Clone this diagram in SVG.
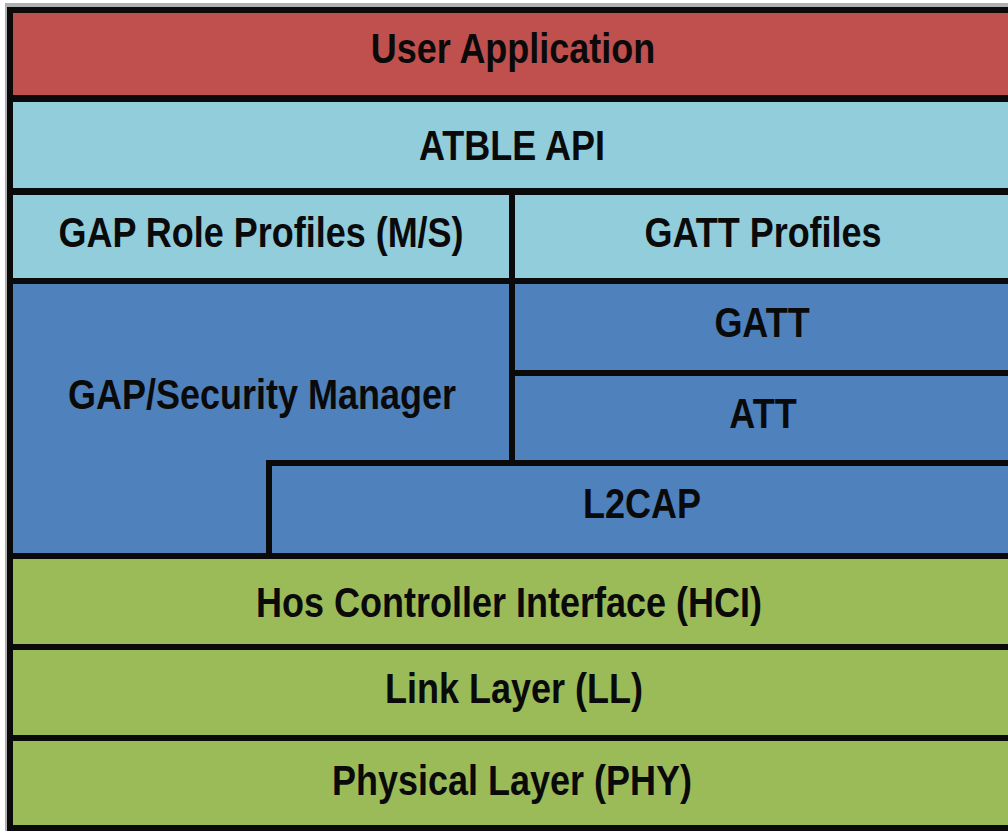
<svg xmlns="http://www.w3.org/2000/svg" width="1008" height="831" viewBox="0 0 1008 831">
  <style>
    .lbl { font-family: "Liberation Sans", Arial, sans-serif; font-weight: bold; font-size: 36px; fill: #0a0a0a; text-anchor: middle; }
    .red { fill: #C0504D; }
    .lb { fill: #92CDDC; }
    .bl { fill: #4F81BD; }
    .gr { fill: #9BBB59; }
    .ln { fill: #0a0a0a; }
  </style>
  <rect x="0" y="0" width="1008" height="831" fill="#ffffff"/>
  <rect x="5" y="3" width="1003" height="4" fill="#b0b0b0"/>
  <rect x="5" y="3" width="3" height="828" fill="#b0b0b0"/>

  <g id="user-application">
    <rect class="red" x="12" y="12" width="996" height="84"/>
    <text class="lbl" transform="translate(513,63) scale(1,1.17)">User Application</text>
  </g>
  <g id="atble-api">
    <rect class="lb" x="12" y="102" width="996" height="87"/>
    <text class="lbl" transform="translate(512,160) scale(1,1.17)">ATBLE API</text>
  </g>
  <g id="gap-role-profiles">
    <rect class="lb" x="12" y="195" width="500" height="84"/>
    <text class="lbl" transform="translate(261,247) scale(1,1.17)">GAP Role Profiles (M/S)</text>
  </g>
  <g id="gatt-profiles">
    <rect class="lb" x="512" y="195" width="496" height="84"/>
    <text class="lbl" transform="translate(763,247) scale(1,1.17)">GATT Profiles</text>
  </g>
  <g id="gap-security-manager">
    <path class="bl" d="M12,284 H512 V463 H269 V556 H12 Z"/>
    <text class="lbl" transform="translate(262,409) scale(1,1.17)">GAP/Security Manager</text>
  </g>
  <g id="gatt">
    <rect class="bl" x="512" y="284" width="496" height="89"/>
    <text class="lbl" transform="translate(762,337) scale(1,1.17)">GATT</text>
  </g>
  <g id="att">
    <rect class="bl" x="512" y="373" width="496" height="90"/>
    <text class="lbl" transform="translate(763,428) scale(1,1.17)">ATT</text>
  </g>
  <g id="l2cap">
    <rect class="bl" x="269" y="463" width="739" height="93"/>
    <text class="lbl" transform="translate(642,518) scale(1,1.17)">L2CAP</text>
  </g>
  <g id="hci">
    <rect class="gr" x="12" y="556" width="996" height="91"/>
    <text class="lbl" transform="translate(509,617) scale(1,1.17)">Hos Controller Interface (HCI)</text>
  </g>
  <g id="link-layer">
    <rect class="gr" x="12" y="647" width="996" height="91"/>
    <text class="lbl" transform="translate(514,703) scale(1,1.17)">Link Layer (LL)</text>
  </g>
  <g id="physical-layer">
    <rect class="gr" x="12" y="738" width="996" height="90"/>
    <text class="lbl" transform="translate(512,795) scale(1,1.17)">Physical Layer (PHY)</text>
  </g>

  <g id="connectors">
    <rect class="ln" x="7" y="7" width="1001" height="6"/>
    <rect class="ln" x="7" y="7" width="6" height="824"/>
    <rect class="ln" x="7" y="95" width="1001" height="7"/>
    <rect class="ln" x="7" y="188" width="1001" height="7"/>
    <rect class="ln" x="7" y="278" width="1001" height="6"/>
    <rect class="ln" x="509" y="188" width="6" height="278"/>
    <rect class="ln" x="509" y="370" width="499" height="6"/>
    <rect class="ln" x="266" y="460" width="742" height="6"/>
    <rect class="ln" x="266" y="460" width="6" height="98"/>
    <rect class="ln" x="7" y="553" width="1001" height="6"/>
    <rect class="ln" x="7" y="644" width="1001" height="6"/>
    <rect class="ln" x="7" y="735" width="1001" height="6"/>
    <rect class="ln" x="7" y="825" width="1001" height="6"/>
  </g>
</svg>
